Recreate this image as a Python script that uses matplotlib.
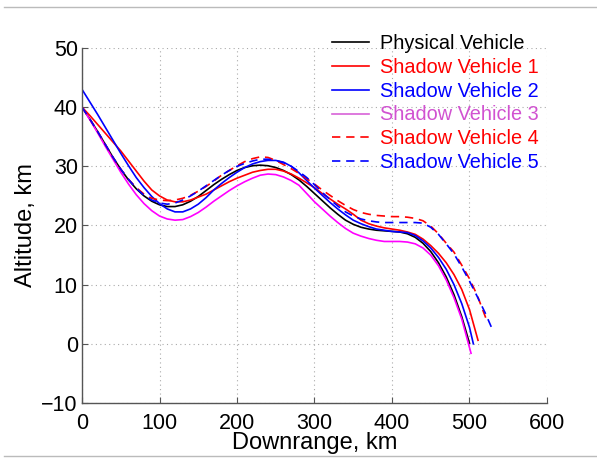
import matplotlib.pyplot as plt
from matplotlib.lines import Line2D

plt.rcParams['font.family'] = ['Liberation Sans', 'DejaVu Sans']

# Downrange grid shared by the readings (km); last point of each run differs
x10 = list(range(0, 500, 10))

# Physical vehicle
phys_x = x10 + [500]
phys_y = [40, 38.0, 35.9, 33.7, 31.5, 29.5, 27.7, 26.2, 25.0, 24.1,
          23.5, 23.2, 23.2, 23.5, 24.1, 24.9, 25.9, 26.9, 27.8, 28.6,
          29.3, 29.8, 30.1, 30.2, 30.1, 29.8, 29.3, 28.6, 27.7, 26.6,
          25.4, 24.2, 23.0, 21.9, 20.9, 20.2, 19.7, 19.4, 19.2, 19.1,
          19.0, 18.9, 18.6, 18.0, 17.0, 15.6, 13.7, 11.3, 8.3, 4.6,
          0.1]

# Shadow vehicle 1
sv1_x = x10 + [500, 511]
sv1_y = [40, 38.6, 37.1, 35.6, 34.1, 32.6, 30.9, 29.2, 27.5, 26.0,
         25.0, 24.3, 24.0, 24.0, 24.3, 24.8, 25.3, 26.0, 26.7, 27.4,
         28.0, 28.5, 29.0, 29.3, 29.5, 29.5, 29.2, 28.7, 28.0, 27.2,
         26.4, 25.4, 24.5, 23.6, 22.8, 21.9, 20.9, 20.3, 19.9, 19.6,
         19.4, 19.2, 18.9, 18.5, 17.7, 16.6, 15.3, 13.7, 11.7, 9.2,
         5.8, 0.6]

# Shadow vehicle 2
sv2_x = x10 + [500, 505]
sv2_y = [43, 40.9, 38.8, 36.6, 34.4, 32.2, 30.1, 28.1, 26.4, 24.9,
         23.7, 22.8, 22.3, 22.3, 22.8, 23.6, 24.7, 26.0, 27.1, 28.1,
         29.0, 29.8, 30.4, 30.8, 31.0, 31.0, 30.7, 30.0, 28.9, 27.6,
         26.3, 25.1, 23.9, 22.8, 21.8, 20.9, 20.3, 19.8, 19.4, 19.2,
         19.0, 18.9, 18.8, 18.3, 17.4, 16.2, 14.6, 12.6, 10.0, 6.8,
         2.8, 0.0]

# Shadow vehicle 3
sv3_x = x10 + [502]
sv3_y = [40, 37.9, 35.7, 33.4, 31.2, 29.0, 27.0, 25.2, 23.7, 22.5,
         21.6, 21.1, 20.9, 21.0, 21.5, 22.2, 23.1, 24.1, 25.0, 25.9,
         26.7, 27.4, 28.0, 28.5, 28.7, 28.6, 28.2, 27.6, 26.8, 25.4,
         24.0, 22.8, 21.6, 20.5, 19.5, 18.7, 18.2, 17.8, 17.5, 17.3,
         17.3, 17.3, 17.2, 16.9, 16.2, 15.0, 13.2, 10.8, 7.8, 4.2,
         -1.6]

# Shadow vehicle 4
sv4_x = x10 + [500, 510, 523]
sv4_y = [40, 38.0, 35.9, 33.7, 31.5, 29.5, 27.8, 26.4, 25.3, 24.6,
         24.3, 24.2, 24.3, 24.6, 25.1, 25.8, 26.6, 27.5, 28.5, 29.3,
         30.1, 30.8, 31.3, 31.6, 31.5, 31.0, 30.3, 29.6, 28.8, 27.9,
         27.0, 26.0, 25.1, 24.2, 23.4, 22.7, 22.2, 21.9, 21.7, 21.6,
         21.5, 21.5, 21.4, 21.2, 20.8, 19.9, 18.6, 17.0, 15.5, 13.3,
         11.0, 8.2, 3.7]

# Shadow vehicle 5
sv5_x = x10 + [500, 510, 520, 531]
sv5_y = [40, 38.0, 35.9, 33.7, 31.5, 29.5, 27.8, 26.3, 25.1, 24.3,
         23.8, 23.6, 23.8, 24.3, 25.0, 25.8, 26.7, 27.6, 28.5, 29.3,
         30.0, 30.5, 30.9, 31.2, 31.2, 31.0, 30.6, 30.0, 29.1, 28.1,
         26.9, 25.6, 24.4, 23.3, 22.3, 21.6, 21.1, 20.8, 20.6, 20.5,
         20.5, 20.5, 20.5, 20.5, 20.4, 19.7, 18.5, 16.9, 15.2, 13.0,
         10.6, 8.0, 5.3, 2.0]

labels = ['Physical Vehicle', 'Shadow Vehicle 1', 'Shadow Vehicle 2',
          'Shadow Vehicle 3', 'Shadow Vehicle 4', 'Shadow Vehicle 5']


def main():
    fig = plt.figure(figsize=(5.97, 4.58), dpi=100)
    ax = fig.add_axes([0.1374, 0.1201, 0.7788, 0.7751])

    dash = (5, 3.5)
    lw = 1.2
    ax.plot(phys_x, phys_y, color='black', lw=lw, label=labels[0])
    ax.plot(sv1_x, sv1_y, color='red', lw=lw, label=labels[1])
    ax.plot(sv2_x, sv2_y, color='blue', lw=lw, label=labels[2])
    ax.plot(sv3_x, sv3_y, color='magenta', lw=lw, label=labels[3])
    ax.plot(sv4_x, sv4_y, color='red', lw=lw, dashes=dash, label=labels[4])
    ax.plot(sv5_x, sv5_y, color='blue', lw=lw, dashes=dash, label=labels[5])

    ax.set_xlim(0, 600)
    ax.set_ylim(-10, 50)
    ax.set_xticks(range(0, 601, 100))
    ax.set_yticks(range(-10, 51, 10))
    ax.set_yticklabels(['\u221210'] + [str(v) for v in range(0, 51, 10)])

    # MATLAB style axes
    ax.spines['top'].set_visible(False)
    ax.spines['right'].set_visible(False)
    for s in ('left', 'bottom'):
        ax.spines[s].set_color('#555555')
        ax.spines[s].set_linewidth(1.0)
    ax.tick_params(direction='in', length=4, width=0.8, color='#555555',
                   labelsize=15.5)
    ax.tick_params(axis='x', pad=7)
    ax.tick_params(axis='y', pad=3)
    ax.grid(True, color='#aaaaaa', linestyle=(0, (1, 3)), linewidth=0.8)

    ax.set_xlabel('Downrange, km', fontsize=17, labelpad=-1)
    ax.set_ylabel('Altitude, km', fontsize=17, labelpad=3)

    leg = ax.legend(loc='upper right', bbox_to_anchor=(1.0, 1.063), frameon=False,
                    fontsize=14.3, handlelength=1.9, handletextpad=0.55,
                    labelspacing=0.25, borderaxespad=0)
    text_colors = ['black', 'red', 'blue', '#d152d1', 'red', 'blue']
    for t, c in zip(leg.get_texts(), text_colors):
        t.set_color(c)
    leg.legend_handles[3].set_color('#d862d8')

    # thin frame lines at top and bottom of the figure
    fig.add_artist(Line2D([4 / 597, 1], [1 - 7 / 458] * 2, transform=fig.transFigure,
                          color='#bbbbbb', lw=1))
    fig.add_artist(Line2D([4 / 597, 1], [1 - 456 / 458] * 2, transform=fig.transFigure,
                          color='#bbbbbb', lw=1))

    fig.savefig('out.png', dpi=100)


if __name__ == '__main__':
    main()
